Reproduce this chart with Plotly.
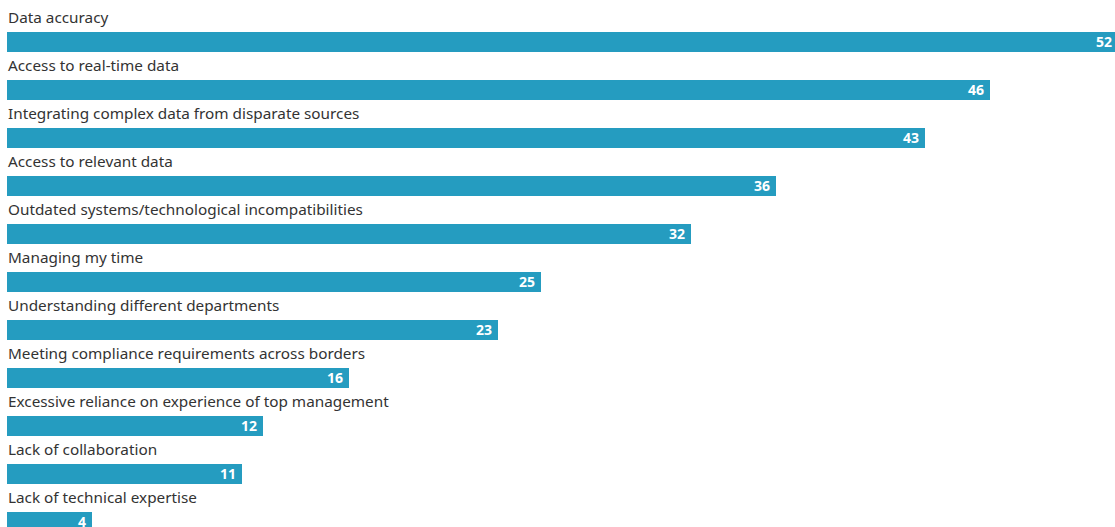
import plotly.graph_objects as go

categories = [
    "Data accuracy",
    "Access to real-time data",
    "Integrating complex data from disparate sources",
    "Access to relevant data",
    "Outdated systems/technological incompatibilities",
    "Managing my time",
    "Understanding different departments",
    "Meeting compliance requirements across borders",
    "Excessive reliance on experience of top management",
    "Lack of collaboration",
    "Lack of technical expertise",
]
values = [52, 46, 43, 36, 32, 25, 23, 16, 12, 11, 4]

BAR_COLOR = "#259cc0"
TEXT_COLOR = "#333333"
FONT = "Noto Sans"

W, H = 1115, 527
left = 7
px_per_unit_x = 21.36
spacing = 48.0
first_center = 41.5

ypos = list(range(len(categories)))

plot_w = W - left
xmax = plot_w / px_per_unit_x
ytop = -first_center / spacing
ybot = (H - first_center) / spacing

fig = go.Figure()
fig.add_trace(go.Bar(
    x=values, y=ypos, orientation="h",
    marker=dict(color=BAR_COLOR, line=dict(width=0)),
    width=20 / spacing,
    hoverinfo="skip",
))

annotations = []
for i, (c, v) in enumerate(zip(categories, values)):
    annotations.append(dict(
        x=0, y=i, xref="x", yref="y", text=c, showarrow=False,
        xanchor="left", yanchor="middle", yshift=24.5, xshift=-1,
        font=dict(family=FONT, size=15.3, color=TEXT_COLOR),
    ))
    annotations.append(dict(
        x=v / xmax, y=i, xref="paper", yref="y", text=f"<b>{v}</b>", showarrow=False,
        xanchor="right", yanchor="middle", xshift=-4, yshift=0,
        font=dict(family=FONT, size=14, color="white"),
    ))

fig.update_layout(
    width=W, height=H,
    margin=dict(l=left, r=0, t=0, b=0),
    paper_bgcolor="white", plot_bgcolor="white",
    showlegend=False,
    xaxis=dict(range=[0, xmax], visible=False, fixedrange=True),
    yaxis=dict(range=[ybot, ytop], visible=False, fixedrange=True),
    annotations=annotations,
    bargap=0,
)

fig.write_html("out.html", config={"displayModeBar": False})
